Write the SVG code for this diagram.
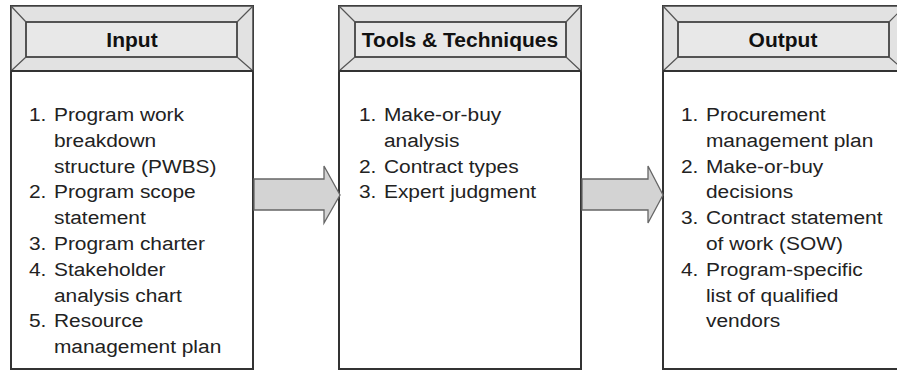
<svg xmlns="http://www.w3.org/2000/svg" width="897" height="371" viewBox="0 0 897 371">
<style>
.box{fill:#fff;stroke:#333;stroke-width:2}
.hdr{fill:#e2e2e2;stroke:#444;stroke-width:1.5}
.inner{fill:#e8e8e8;stroke:#444;stroke-width:1.8}
.bev{stroke:#555;stroke-width:1.2;fill:none}
.sep{stroke:#333;stroke-width:2.2}
.h{font-family:"Liberation Sans",Arial,sans-serif;font-weight:bold;font-size:20px;fill:#111;text-anchor:middle}
.t{font-family:"Liberation Sans",Arial,sans-serif;font-size:19px;fill:#222}
.arr{fill:#d3d3d3;stroke:#666;stroke-width:1.3}
</style>
<g id="input">
<rect class="box" x="11" y="6" width="242" height="363"/>
<rect class="hdr" x="11" y="6" width="242" height="65"/>
<rect class="inner" x="26" y="22" width="211" height="35"/>
<path class="bev" d="M11 6L26 22M253 6L237 22M11 71L26 57M253 71L237 57"/>
<line class="sep" x1="11" y1="71" x2="253" y2="71"/>
<text class="h" transform="translate(132,0) scale(1.05,1)" x="0" y="47">Input</text>
<text class="t" transform="translate(29,0) scale(1.1,1)"><tspan x="0" y="121">1.</tspan><tspan x="22.7" y="121">Program work</tspan><tspan x="22.7" y="146.8">breakdown</tspan><tspan x="22.7" y="172.6">structure (PWBS)</tspan><tspan x="0" y="198.4">2.</tspan><tspan x="22.7" y="198.4">Program scope</tspan><tspan x="22.7" y="224.2">statement</tspan><tspan x="0" y="250">3.</tspan><tspan x="22.7" y="250">Program charter</tspan><tspan x="0" y="275.8">4.</tspan><tspan x="22.7" y="275.8">Stakeholder</tspan><tspan x="22.7" y="301.6">analysis chart</tspan><tspan x="0" y="327.4">5.</tspan><tspan x="22.7" y="327.4">Resource</tspan><tspan x="22.7" y="353.2">management plan</tspan></text>
</g>
<g id="tools">
<rect class="box" x="339" y="6" width="242" height="363"/>
<rect class="hdr" x="339" y="6" width="242" height="65"/>
<rect class="inner" x="355" y="22" width="211" height="35"/>
<path class="bev" d="M339 6L355 22M581 6L566 22M339 71L355 57M581 71L566 57"/>
<line class="sep" x1="339" y1="71" x2="581" y2="71"/>
<text class="h" transform="translate(460,0) scale(1.05,1)" x="0" y="47">Tools &amp; Techniques</text>
<text class="t" transform="translate(359,0) scale(1.1,1)"><tspan x="0" y="121">1.</tspan><tspan x="22.7" y="121">Make-or-buy</tspan><tspan x="22.7" y="146.8">analysis</tspan><tspan x="0" y="172.6">2.</tspan><tspan x="22.7" y="172.6">Contract types</tspan><tspan x="0" y="198.4">3.</tspan><tspan x="22.7" y="198.4">Expert judgment</tspan></text>
</g>
<g id="output">
<rect class="box" x="663" y="6" width="242" height="363"/>
<rect class="hdr" x="663" y="6" width="242" height="65"/>
<rect class="inner" x="678" y="22" width="211" height="35"/>
<path class="bev" d="M663 6L678 22M905 6L889 22M663 71L678 57M905 71L889 57"/>
<line class="sep" x1="663" y1="71" x2="905" y2="71"/>
<text class="h" transform="translate(783,0) scale(1.05,1)" x="0" y="47">Output</text>
<text class="t" transform="translate(681,0) scale(1.1,1)"><tspan x="0" y="121">1.</tspan><tspan x="22.7" y="121">Procurement</tspan><tspan x="22.7" y="146.8">management plan</tspan><tspan x="0" y="172.6">2.</tspan><tspan x="22.7" y="172.6">Make-or-buy</tspan><tspan x="22.7" y="198.4">decisions</tspan><tspan x="0" y="224.2">3.</tspan><tspan x="22.7" y="224.2">Contract statement</tspan><tspan x="22.7" y="250">of work (SOW)</tspan><tspan x="0" y="275.8">4.</tspan><tspan x="22.7" y="275.8">Program-specific</tspan><tspan x="22.7" y="301.6">list of qualified</tspan><tspan x="22.7" y="327.4">vendors</tspan></text>
</g>
<g id="connectors">
<path class="arr" d="M254 179H324V166L340 195L324 223V210H254Z"/>
<path class="arr" d="M582 179H648V166L663 195L648 223V210H582Z"/>
</g>
</svg>
